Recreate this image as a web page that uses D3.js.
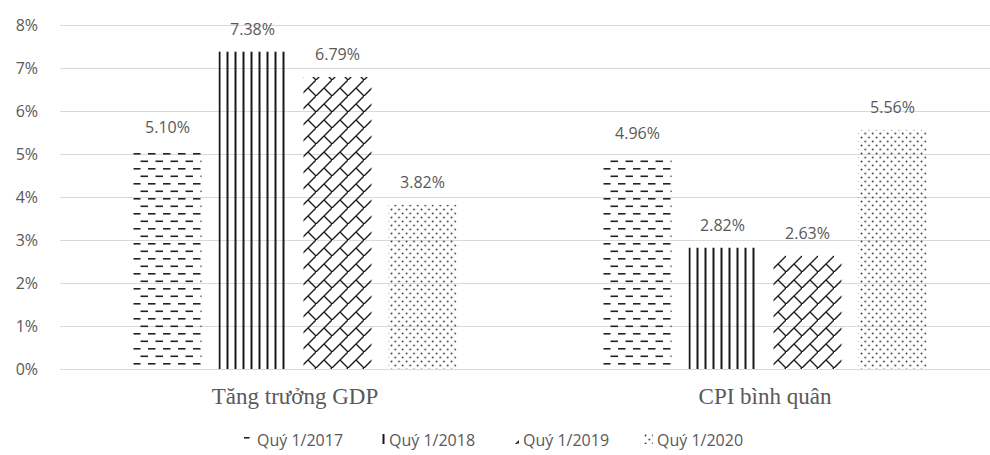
<!DOCTYPE html>
<html>
<head>
<meta charset="utf-8">
<script src="https://cdn.jsdelivr.net/npm/d3@7/dist/d3.min.js"></script>
<style>
  html, body { margin: 0; padding: 0; background: #fff; }
  svg { display: block; }
</style>
</head>
<body>
<svg id="chart" width="990" height="455"></svg>
<script>
// Quarterly GDP growth and average CPI, Q1 2017–2020 (%)
const categories = ["Tăng trưởng GDP", "CPI bình quân"];
const seriesNames = ["Quý 1/2017", "Quý 1/2018", "Quý 1/2019", "Quý 1/2020"];
const gdpValues = [5.10, 7.38, 6.79, 3.82];
const cpiValues = [4.96, 2.82, 2.63, 5.56];
const yTicks = [0, 1, 2, 3, 4, 5, 6, 7, 8];
const patternIds = ["pat-dash", "pat-vert", "pat-brick", "pat-dots"];

const valuesByCategory = [gdpValues, cpiValues];

const svg = d3.select("#chart");
const textColor = "#595959";
const gridColor = "#d9d9d9";
const ink = "#1a1a1a";

// ---- fill patterns ----
const defs = svg.append("defs");

// dashed horizontal
const pDash = defs.append("pattern").attr("id", "pat-dash")
  .attr("patternUnits", "userSpaceOnUse").attr("width", 15).attr("height", 15)
  .attr("x", 133).attr("y", 0);
pDash.append("rect").attr("x", 0).attr("y", 3).attr("width", 7.5).attr("height", 1.6).attr("fill", "#222");
pDash.append("rect").attr("x", 7.5).attr("y", 10.5).attr("width", 7.5).attr("height", 1.6).attr("fill", "#222");

// dark vertical
const pVert = defs.append("pattern").attr("id", "pat-vert")
  .attr("patternUnits", "userSpaceOnUse").attr("width", 8).attr("height", 10)
  .attr("x", 220.5).attr("y", 0);
pVert.append("rect").attr("x", 2).attr("y", 0).attr("width", 2).attr("height", 10).attr("fill", ink);

// diagonal brick
const pBrick = defs.append("pattern").attr("id", "pat-brick")
  .attr("patternUnits", "userSpaceOnUse").attr("width", 16).attr("height", 16);
pBrick.append("path")
  .attr("d", "M-2,18 L18,-2 M8,8 L16,16 M0,0 L-1,-1")
  .attr("stroke", ink).attr("stroke-width", 1.4).attr("fill", "none");

// dotted
const pDots = defs.append("pattern").attr("id", "pat-dots")
  .attr("patternUnits", "userSpaceOnUse").attr("width", 7.5).attr("height", 8);
pDots.append("circle").attr("cx", 1.5).attr("cy", 1.5).attr("r", 0.9).attr("fill", "#333");
pDots.append("circle").attr("cx", 5.25).attr("cy", 5.5).attr("r", 0.9).attr("fill", "#333");

// ---- scales ----
const x0 = d3.scaleBand().domain(categories).range([60, 1000]).padding(0);
const x1 = d3.scaleBand().domain(seriesNames).range([0, x0.bandwidth()])
  .paddingInner(0.2).paddingOuter(0.865);
const y = d3.scaleLinear().domain([0, 8]).range([369, 25]);

// ---- gridlines ----
svg.append("g").selectAll("line").data(yTicks).join("line")
  .attr("x1", 60).attr("x2", 990)
  .attr("y1", d => Math.round(y(d)) + 0.5).attr("y2", d => Math.round(y(d)) + 0.5)
  .attr("stroke", gridColor).attr("stroke-width", 1);

// ---- y axis labels ----
const yAxis = d3.axisLeft(y).tickValues(yTicks).tickFormat(d => d + "%").tickSize(0).tickPadding(0);
const yAxisG = svg.append("g").attr("transform", "translate(38,0)").call(yAxis);
yAxisG.select(".domain").remove();
yAxisG.selectAll("text")
  .attr("fill", textColor).attr("font-family", "'Open Sans', sans-serif").attr("font-size", 16);

// ---- bars ----
const groups = svg.append("g").selectAll("g").data(categories).join("g")
  .attr("transform", d => `translate(${x0(d)},0)`);

groups.each(function (cat, ci) {
  const vals = valuesByCategory[ci];
  const g = d3.select(this);
  g.selectAll("rect").data(vals).join("rect")
    .attr("x", (v, i) => x1(seriesNames[i]))
    .attr("y", v => y(v))
    .attr("width", x1.bandwidth())
    .attr("height", v => y(0) - y(v))
    .attr("fill", (v, i) => `url(#${patternIds[i]})`);
  g.selectAll("text").data(vals).join("text")
    .attr("x", (v, i) => x1(seriesNames[i]) + x1.bandwidth() / 2)
    .attr("y", v => y(v) - 17)
    .attr("text-anchor", "middle")
    .attr("fill", textColor)
    .attr("font-family", "'Open Sans', sans-serif")
    .attr("font-size", 16)
    .text(v => v.toFixed(2) + "%");
});

// ---- category labels ----
svg.append("g").selectAll("text").data(categories).join("text")
  .attr("x", d => x0(d) + x0.bandwidth() / 2)
  .attr("y", 404)
  .attr("text-anchor", "middle")
  .attr("fill", textColor)
  .attr("font-family", "'Liberation Serif', 'Times New Roman', serif")
  .attr("font-size", 23)
  .text(d => d);

// ---- legend ----
const legendX = [244, 376, 510, 644];
const swatchDx = [0, 4, 0, 0];
const swatchW = [9, 6, 9, 9];
const legend = svg.append("g").selectAll("g").data(seriesNames).join("g")
  .attr("transform", (d, i) => `translate(${legendX[i]},434)`);
legend.append("rect")
  .attr("x", (d, i) => swatchDx[i]).attr("y", 0)
  .attr("width", (d, i) => swatchW[i]).attr("height", 10)
  .attr("fill", (d, i) => `url(#${patternIds[i]})`);
legend.append("text")
  .attr("x", 13).attr("y", 12)
  .attr("fill", textColor)
  .attr("font-family", "'Open Sans', sans-serif")
  .attr("font-size", 16)
  .text(d => d);
</script>
</body>
</html>
